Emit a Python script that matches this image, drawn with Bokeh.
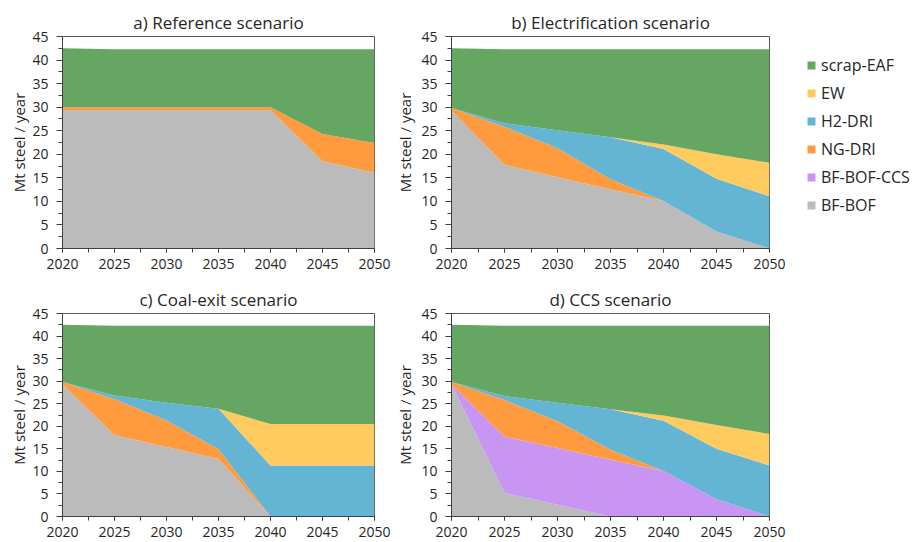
from bokeh.plotting import figure
from bokeh.layouts import row, column
from bokeh.models import ColumnDataSource, SingleIntervalTicker, Range1d, Legend, LegendItem
from bokeh.embed import file_html
from bokeh.resources import INLINE

years = [2020, 2025, 2030, 2035, 2040, 2045, 2050]
techs = ["BF-BOF", "BF-BOF-CCS", "NG-DRI", "H2-DRI", "EW", "scrap-EAF"]
colors = ["#BBBBBB", "#C896F2", "#FF9A3E", "#64B5D3", "#FFCA5E", "#64A662"]

# a) Reference scenario
ref_bf_bof = [29.4, 29.4, 29.4, 29.4, 29.4, 18.5, 16.1]
ref_bf_bof_ccs = [0, 0, 0, 0, 0, 0, 0]
ref_ng_dri = [0.6, 0.6, 0.6, 0.6, 0.6, 5.8, 6.3]
ref_h2_dri = [0, 0, 0, 0, 0, 0, 0]
ref_ew = [0, 0, 0, 0, 0, 0, 0]
ref_scrap_eaf = [12.5, 12.3, 12.3, 12.3, 12.3, 18.0, 19.9]

# b) Electrification scenario
ele_bf_bof = [29.3, 17.8, 15.1, 12.5, 10.1, 3.6, 0.0]
ele_bf_bof_ccs = [0, 0, 0, 0, 0, 0, 0]
ele_ng_dri = [0.5, 8.0, 6.2, 2.2, 0, 0, 0]
ele_h2_dri = [0, 0.8, 3.8, 8.9, 11.0, 11.2, 11.1]
ele_ew = [0, 0, 0, 0, 1.0, 5.2, 7.1]
ele_scrap_eaf = [12.7, 15.7, 17.2, 18.7, 20.2, 22.3, 24.1]

# c) Coal-exit scenario
coal_bf_bof = [29.3, 18.0, 15.4, 12.8, 0, 0, 0]
coal_bf_bof_ccs = [0, 0, 0, 0, 0, 0, 0]
coal_ng_dri = [0.5, 8.0, 5.9, 2.1, 0, 0, 0]
coal_h2_dri = [0, 0.8, 3.9, 9.0, 11.3, 11.3, 11.3]
coal_ew = [0, 0, 0, 0, 9.2, 9.2, 9.2]
coal_scrap_eaf = [12.7, 15.5, 17.1, 18.4, 21.8, 21.8, 21.8]

# d) CCS scenario
ccs_bf_bof = [29.3, 5.2, 2.6, 0, 0, 0, 0]
ccs_bf_bof_ccs = [0, 12.5, 12.6, 12.6, 10.1, 3.8, 0]
ccs_ng_dri = [0.5, 8.1, 5.9, 2.2, 0, 0, 0]
ccs_h2_dri = [0, 0.9, 4.1, 9.0, 11.1, 11.2, 11.3]
ccs_ew = [0, 0, 0, 0, 1.2, 5.3, 7.0]
ccs_scrap_eaf = [12.7, 15.6, 17.1, 18.5, 19.9, 22.0, 24.0]

titles = ["a) Reference scenario", "b) Electrification scenario",
          "c) Coal-exit scenario", "d) CCS scenario"]

FONT = "Open Sans"
TXT = "#262626"


def make_panel(title, series, bl, br, bt, bb, fw, fh, label_standoff):
    data = {"year": years}
    for t, v in zip(techs, series):
        data[t] = v
    src = ColumnDataSource(data)
    p = figure(title=title, output_backend="svg", toolbar_location=None,
               width=bl + fw + br, height=bt + fh + bb,
               min_border_left=bl, min_border_right=br,
               min_border_top=bt, min_border_bottom=bb,
               x_range=Range1d(2020, 2050), y_range=Range1d(0, 45),
               background_fill_color="white", border_fill_color="white")
    rends = p.varea_stack(stackers=techs, x="year", color=colors, source=src)
    p.xgrid.visible = False
    p.ygrid.visible = False
    p.outline_line_color = "#595959"
    p.outline_line_width = 1
    p.title.align = "center"
    p.title.text_font = FONT
    p.title.text_font_size = "17px"
    p.title.text_font_style = "normal"
    p.title.text_color = TXT
    p.title.standoff = 5
    p.xaxis.ticker = SingleIntervalTicker(interval=5, num_minor_ticks=2)
    p.yaxis.ticker = SingleIntervalTicker(interval=5, num_minor_ticks=2)
    for ax in (p.xaxis[0], p.yaxis[0]):
        ax.axis_line_color = "#404040"
        ax.major_tick_line_color = "#404040"
        ax.minor_tick_line_color = "#404040"
        ax.major_tick_in = 0
        ax.minor_tick_in = 0
        ax.major_label_text_font = FONT
        ax.major_label_text_font_size = "14px"
        ax.major_label_text_color = TXT
    p.xaxis.major_tick_out = 4
    p.xaxis.minor_tick_out = 4
    p.xaxis.major_label_standoff = 6
    p.yaxis.major_tick_out = 6
    p.yaxis.minor_tick_out = 4
    p.yaxis.major_label_standoff = 8
    p.yaxis.axis_label = "Mt steel / year"
    p.yaxis.axis_label_text_font = FONT
    p.yaxis.axis_label_text_font_size = "15px"
    p.yaxis.axis_label_text_font_style = "normal"
    p.yaxis.axis_label_text_color = TXT
    p.yaxis.axis_label_standoff = label_standoff
    return p, rends


pa, _ = make_panel(titles[0], [ref_bf_bof, ref_bf_bof_ccs, ref_ng_dri, ref_h2_dri, ref_ew, ref_scrap_eaf],
                   62, 18, 36, 35, 312, 212, 0)
pb, rb = make_panel(titles[1], [ele_bf_bof, ele_bf_bof_ccs, ele_ng_dri, ele_h2_dri, ele_ew, ele_scrap_eaf],
                    59, 18, 36, 35, 318, 212, 3)
pc, _ = make_panel(titles[2], [coal_bf_bof, coal_bf_bof_ccs, coal_ng_dri, coal_h2_dri, coal_ew, coal_scrap_eaf],
                   62, 18, 28, 26, 312, 205, 0)
pd, _ = make_panel(titles[3], [ccs_bf_bof, ccs_bf_bof_ccs, ccs_ng_dri, ccs_h2_dri, ccs_ew, ccs_scrap_eaf],
                   59, 18, 28, 26, 318, 205, 3)

# legend in its own small figure to the right of panel b
pl = figure(output_backend="svg", toolbar_location=None, width=128, height=283,
            min_border_left=0, min_border_right=0, min_border_top=0, min_border_bottom=0,
            x_range=Range1d(0, 1), y_range=Range1d(0, 1),
            x_axis_type=None, y_axis_type=None)
pl.xgrid.visible = False
pl.ygrid.visible = False
pl.outline_line_color = None
leg_rends = {}
for t, c in zip(techs, colors):
    leg_rends[t] = pl.varea(x=[0, 0], y1=[0, 0], y2=[0, 0], fill_color=c)
items = [LegendItem(label=t, renderers=[leg_rends[t]]) for t in techs][::-1]
legend = Legend(items=items, location=(19, 67), orientation="vertical",
                glyph_width=10, glyph_height=10, label_standoff=5,
                label_height=20, spacing=6, padding=0, margin=0,
                border_line_color=None, background_fill_alpha=0,
                label_text_font=FONT, label_text_font_size="16px",
                label_text_color=TXT)
pl.add_layout(legend, "center")

layout = row(column(pa, pc), column(pb, pd), pl)

with open("out.html", "w") as f:
    f.write(file_html(layout, INLINE))
